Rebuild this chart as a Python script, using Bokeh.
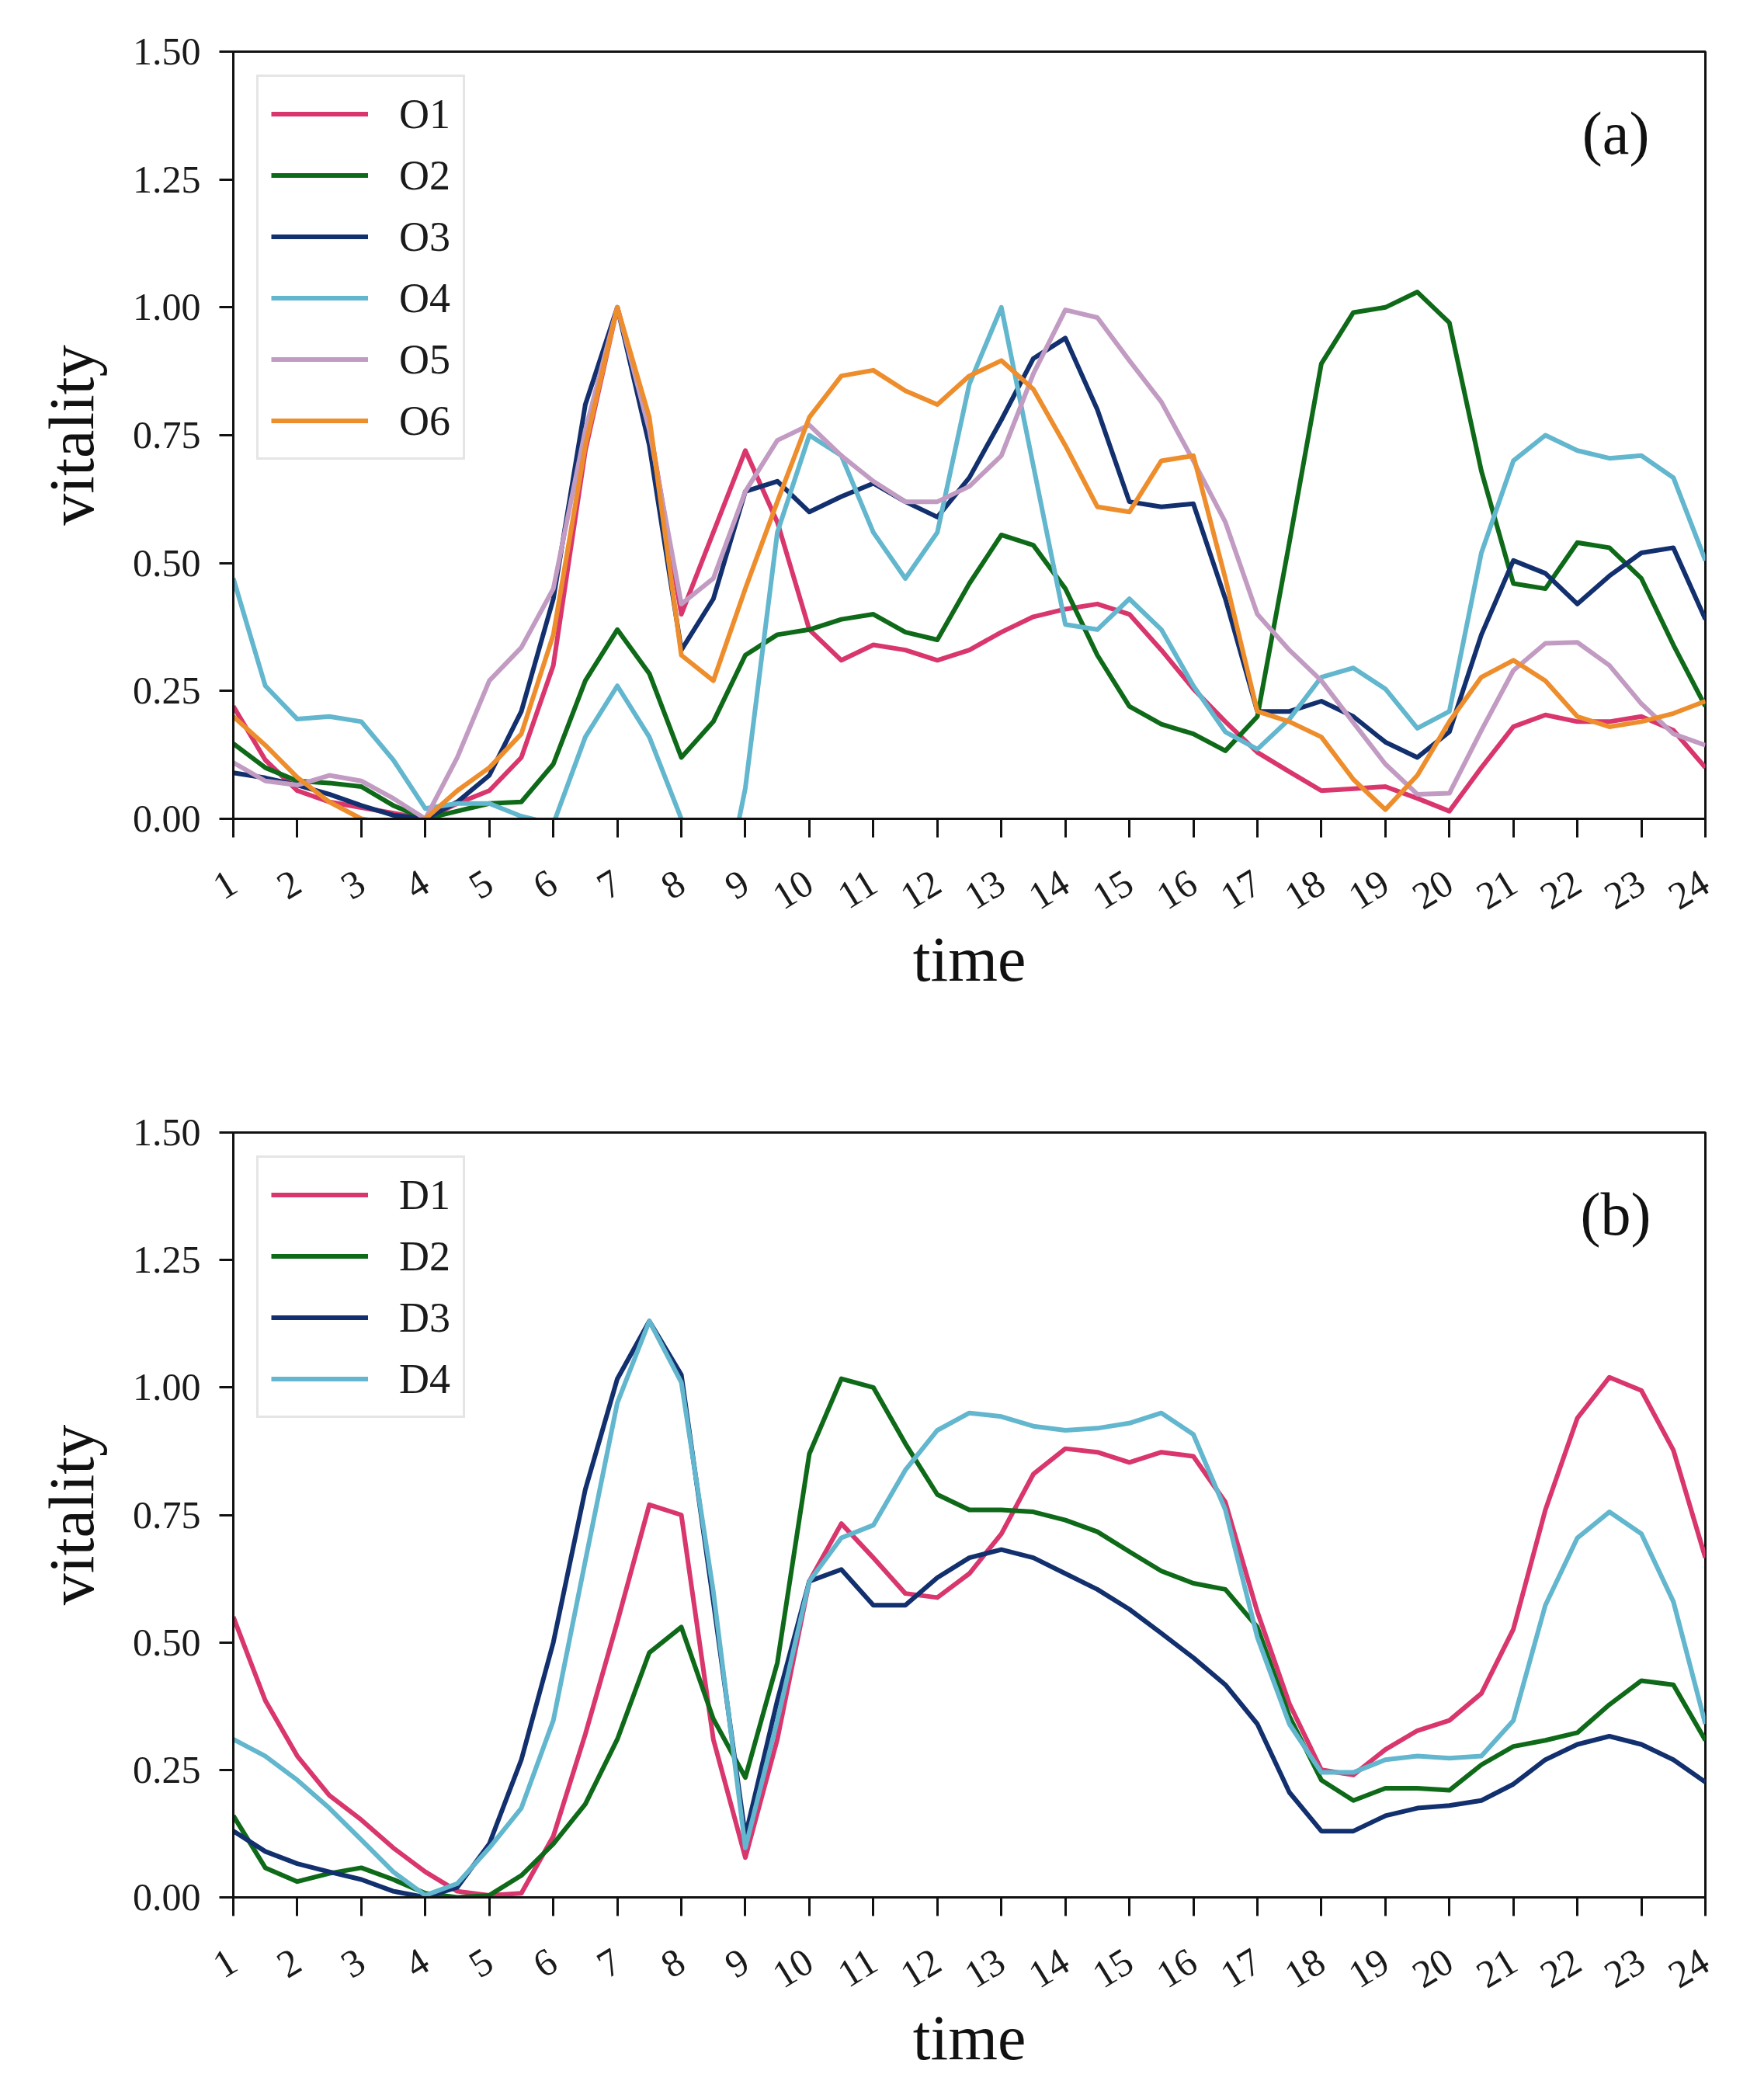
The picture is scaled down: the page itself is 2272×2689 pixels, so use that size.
from bokeh.plotting import figure
from bokeh.models import Range1d, FixedTicker, NumeralTickFormatter, Label
from bokeh.layouts import column
from bokeh.embed import file_html
from bokeh.resources import INLINE

# half-hour readings taken off the two panels
hours = [1, 1.5, 2, 2.5, 3, 3.5, 4, 4.5, 5, 5.5, 6, 6.5, 7, 7.5, 8, 8.5,
         9, 9.5, 10, 10.5, 11, 11.5, 12, 12.5, 13, 13.5, 14, 14.5, 15, 15.5,
         16, 16.5, 17, 17.5, 18, 18.5, 19, 19.5, 20, 20.5, 21, 21.5, 22, 22.5,
         23, 23.5, 24]
hour_ticks = [1, 2, 3, 4, 5, 6, 7, 8, 9, 10, 11, 12, 13, 14, 15, 16, 17, 18,
              19, 20, 21, 22, 23, 24]
vitality_ticks = [0, 0.25, 0.5, 0.75, 1.0, 1.25, 1.5]

O1 = [0.22, 0.115, 0.055, 0.033, 0.022, 0.011, 0.0, 0.03, 0.055, 0.12, 0.30,
      0.72, 1.0, 0.77, 0.40, 0.56, 0.72, 0.58, 0.37, 0.31, 0.34, 0.33, 0.31,
      0.33, 0.365, 0.395, 0.41, 0.42, 0.40, 0.33, 0.254, 0.19, 0.13, 0.092,
      0.055, 0.059, 0.063, 0.04, 0.015, 0.10, 0.18, 0.203, 0.19, 0.19, 0.20,
      0.173, 0.10]
O2 = [0.147, 0.10, 0.074, 0.07, 0.063, 0.026, 0.0, 0.015, 0.03, 0.033, 0.107,
      0.27, 0.37, 0.284, 0.12, 0.19, 0.32, 0.36, 0.37, 0.39, 0.40, 0.365, 0.35,
      0.46, 0.555, 0.535, 0.45, 0.32, 0.22, 0.185, 0.166, 0.133, 0.20, 0.54,
      0.89, 0.99, 1.0, 1.03, 0.97, 0.68, 0.46, 0.45, 0.54, 0.53, 0.47, 0.34,
      0.22]
O3 = [0.09, 0.08, 0.066, 0.048, 0.026, 0.007, 0.0, 0.033, 0.085, 0.21, 0.43,
      0.81, 1.0, 0.73, 0.33, 0.43, 0.64, 0.66, 0.60, 0.63, 0.656, 0.62, 0.59,
      0.667, 0.78, 0.90, 0.94, 0.80, 0.62, 0.61, 0.616, 0.43, 0.21, 0.21,
      0.23, 0.20, 0.15, 0.12, 0.17, 0.36, 0.505, 0.48, 0.42, 0.475, 0.52,
      0.53, 0.39]
O4 = [0.47, 0.26, 0.195, 0.20, 0.19, 0.115, 0.02, 0.03, 0.03, 0.005, -0.01,
      0.16, 0.26, 0.16, 0.0, -0.25, 0.06, 0.56, 0.75, 0.71, 0.56, 0.47, 0.56,
      0.85, 1.0, 0.69, 0.38, 0.37, 0.43, 0.37, 0.26, 0.17, 0.136, 0.195,
      0.277, 0.295, 0.254, 0.177, 0.21, 0.52, 0.70, 0.75, 0.72, 0.705, 0.71,
      0.667, 0.505]
O5 = [0.11, 0.074, 0.066, 0.085, 0.074, 0.04, 0.0, 0.12, 0.27, 0.335, 0.45,
      0.76, 1.0, 0.76, 0.42, 0.47, 0.64, 0.74, 0.77, 0.71, 0.66, 0.62, 0.62,
      0.65, 0.71, 0.87, 0.995, 0.98, 0.896, 0.815, 0.70, 0.58, 0.40, 0.33,
      0.27, 0.188, 0.107, 0.048, 0.05, 0.173, 0.29, 0.343, 0.345, 0.30, 0.225,
      0.166, 0.144]
O6 = [0.20, 0.144, 0.081, 0.033, 0.0, -0.01, 0.0, 0.055, 0.10, 0.166, 0.36,
      0.73, 1.0, 0.785, 0.32, 0.27, 0.45, 0.62, 0.785, 0.866, 0.877, 0.837,
      0.81, 0.866, 0.896, 0.84, 0.73, 0.61, 0.60, 0.70, 0.71, 0.47, 0.21, 0.19,
      0.16, 0.077, 0.018, 0.085, 0.19, 0.277, 0.31, 0.27, 0.20, 0.18, 0.19,
      0.206, 0.23]

D1 = [0.55, 0.386, 0.277, 0.20, 0.152, 0.097, 0.05, 0.012, 0.004, 0.008, 0.12,
      0.32, 0.54, 0.77, 0.75, 0.31, 0.078, 0.31, 0.62, 0.733, 0.666, 0.596,
      0.588, 0.635, 0.713, 0.83, 0.88, 0.873, 0.853, 0.873, 0.865, 0.775, 0.56,
      0.38, 0.25, 0.24, 0.29, 0.327, 0.347, 0.40, 0.526, 0.76, 0.94, 1.02,
      0.994, 0.877, 0.666]
D2 = [0.16, 0.058, 0.031, 0.047, 0.058, 0.035, 0.008, 0.0, 0.004, 0.043, 0.105,
      0.183, 0.31, 0.48, 0.53, 0.35, 0.235, 0.46, 0.87, 1.017, 1.0, 0.89, 0.79,
      0.76, 0.76, 0.756, 0.74, 0.717, 0.678, 0.64, 0.616, 0.604, 0.53, 0.355,
      0.23, 0.19, 0.214, 0.214, 0.21, 0.26, 0.296, 0.308, 0.323, 0.378, 0.425,
      0.417, 0.308]
D3 = [0.13, 0.09, 0.066, 0.05, 0.035, 0.012, 0.0, 0.02, 0.105, 0.27, 0.50,
      0.80, 1.017, 1.13, 1.025, 0.58, 0.12, 0.386, 0.62, 0.643, 0.573, 0.573,
      0.627, 0.666, 0.682, 0.666, 0.635, 0.604, 0.565, 0.518, 0.47, 0.417,
      0.34, 0.206, 0.13, 0.13, 0.16, 0.175, 0.18, 0.19, 0.222, 0.27, 0.30,
      0.316, 0.30, 0.27, 0.226]
D4 = [0.31, 0.277, 0.23, 0.175, 0.113, 0.05, 0.004, 0.027, 0.097, 0.175, 0.347,
      0.66, 0.97, 1.13, 1.01, 0.60, 0.097, 0.347, 0.62, 0.705, 0.73, 0.838,
      0.916, 0.95, 0.943, 0.924, 0.916, 0.92, 0.93, 0.95, 0.908, 0.76, 0.51,
      0.34, 0.245, 0.245, 0.27, 0.277, 0.273, 0.277, 0.347, 0.573, 0.705,
      0.756, 0.713, 0.58, 0.34]

palette = ["#d8366d", "#0e6a18", "#122f6e", "#62b6cd", "#c29bc3", "#ee8d2c"]
FONT = "Liberation Serif"


def make_panel(names, series, tag, top):
    p = figure(width=2256, height=1336, output_backend="svg",
               toolbar_location=None, tools="",
               x_range=Range1d(1, 24), y_range=Range1d(0, 1.5),
               min_border_left=300, min_border_right=60,
               min_border_top=top, min_border_bottom=1336 - top - 988)
    p.grid.visible = False
    p.background_fill_color = "white"
    p.border_fill_color = "white"
    p.outline_line_color = "#111111"
    p.outline_line_width = 3

    for i, (name, ys) in enumerate(zip(names, series)):
        p.line(hours, ys, line_color=palette[i], line_width=6,
               line_join="round", legend_label=name)

    p.xaxis.ticker = FixedTicker(ticks=hour_ticks)
    p.xaxis.major_label_overrides = {h: str(h) for h in hour_ticks}
    p.xaxis.major_label_orientation = 0.55
    p.yaxis.ticker = FixedTicker(ticks=vitality_ticks)
    p.yaxis.formatter = NumeralTickFormatter(format="0.00")
    p.xaxis.axis_label = "time"
    p.yaxis.axis_label = "vitality"

    for ax in (p.xaxis, p.yaxis):
        ax.axis_line_width = 3
        ax.axis_line_color = "#111111"
        ax.major_tick_line_width = 3
        ax.major_tick_line_color = "#111111"
        ax.major_tick_in = 0
        ax.major_tick_out = 24
        ax.minor_tick_line_color = None
        ax.major_label_text_font = FONT
        ax.major_label_text_font_size = "50px"
        ax.major_label_text_color = "#1a1a1a"
        ax.axis_label_text_font = FONT
        ax.axis_label_text_font_size = "82px"
        ax.axis_label_text_font_style = "normal"
        ax.axis_label_text_color = "#111111"
    p.yaxis.major_tick_out = 18
    p.yaxis.major_label_standoff = 24
    p.yaxis.axis_label_standoff = 30
    p.xaxis.major_label_standoff = 54
    p.xaxis.axis_label_standoff = 0

    lg = p.legend[0]
    lg.location = "top_left"
    lg.margin = 30
    lg.padding = 16
    lg.spacing = 16
    lg.glyph_width = 125
    lg.glyph_height = 63
    lg.label_height = 63
    lg.label_standoff = 40
    lg.label_text_font = FONT
    lg.label_text_font_size = "54px"
    lg.label_text_color = "#1a1a1a"
    lg.border_line_color = "#cccccc"
    lg.border_line_width = 3
    lg.background_fill_color = "white"
    lg.background_fill_alpha = 0.85

    p.add_layout(Label(x=22.6, y=1.34, text=tag, text_font=FONT,
                       text_font_size="78px", text_align="center",
                       text_baseline="middle", text_color="#111111"))
    return p


pa = make_panel(["O1", "O2", "O3", "O4", "O5", "O6"],
                [O1, O2, O3, O4, O5, O6], "(a)", 66)
pb = make_panel(["D1", "D2", "D3", "D4"], [D1, D2, D3, D4], "(b)", 122)

layout = column(pa, pb)
open("out.html", "w").write(file_html(layout, INLINE))
